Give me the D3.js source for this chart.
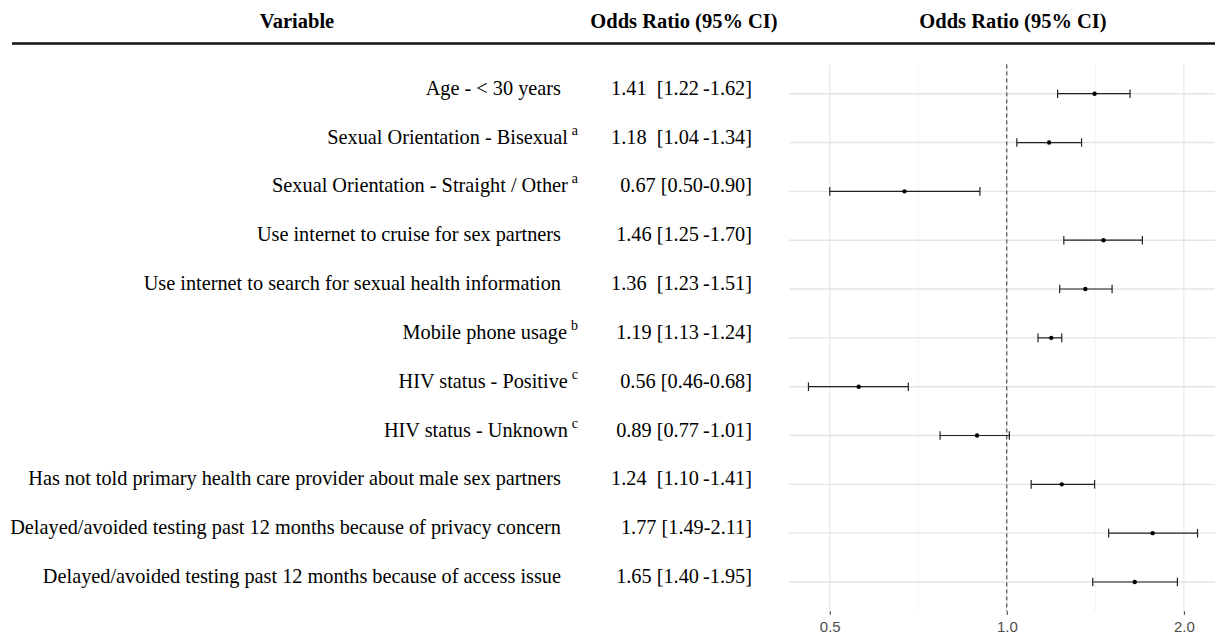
<!DOCTYPE html>
<html>
<head>
<meta charset="utf-8">
<script src="https://cdn.jsdelivr.net/npm/d3@7"></script>
<style>
  body { margin: 0; background: #fff; }
  text { white-space: pre; }
</style>
</head>
<body>
<div id="forest"></div>
<script>
// rows, top to bottom
var variables = [
  "Age - < 30 years",
  "Sexual Orientation - Bisexual",
  "Sexual Orientation - Straight / Other",
  "Use internet to cruise for sex partners",
  "Use internet to search for sexual health information",
  "Mobile phone usage",
  "HIV status - Positive",
  "HIV status - Unknown",
  "Has not told primary health care provider about male sex partners",
  "Delayed/avoided testing past 12 months because of privacy concern",
  "Delayed/avoided testing past 12 months because of access issue"
];
var footnotes = ["", "a", "a", "", "", "b", "c", "c", "", "", ""];
var oddsRatio = [1.41, 1.18, 0.67, 1.46, 1.36, 1.19, 0.56, 0.89, 1.24, 1.77, 1.65];
var ciLower   = [1.22, 1.04, 0.50, 1.25, 1.23, 1.13, 0.46, 0.77, 1.10, 1.49, 1.40];
var ciUpper   = [1.62, 1.34, 0.90, 1.70, 1.51, 1.24, 0.68, 1.01, 1.41, 2.11, 1.95];
var ciLabels = [
  "1.41  [1.22\u2009-1.62]",
  "1.18  [1.04\u2009-1.34]",
  "0.67 [0.50-0.90]",
  "1.46 [1.25\u2009-1.70]",
  "1.36  [1.23\u2009-1.51]",
  "1.19 [1.13\u2009-1.24]",
  "0.56 [0.46-0.68]",
  "0.89 [0.77\u2009-1.01]",
  "1.24  [1.10\u2009-1.41]",
  "1.77 [1.49-2.11]",
  "1.65 [1.40\u2009-1.95]"
];
var xTicks = [0.5, 1.0, 2.0];
var headers = ["Variable", "Odds Ratio (95% CI)", "Odds Ratio (95% CI)"];

var width = 1215, height = 635;
var panel = {left: 789, right: 1217, top: 64.4, bottom: 611.3};
var serif = "'Liberation Serif', 'Times New Roman', serif";

var svg = d3.select("#forest")
  .append("svg")
    .attr("width", width)
    .attr("height", height);

// ---------- header ----------
var headerX = [297, 684, 1013];
svg.selectAll("header")
  .data(headers)
  .enter()
  .append("text")
    .attr("x", function(d, i) { return headerX[i]; })
    .attr("y", 28)
    .attr("text-anchor", "middle")
    .style("font-family", serif)
    .style("font-weight", "bold")
    .style("font-size", "20.5px")
    .text(function(d) { return d; });

svg.append("line")
  .attr("x1", 12).attr("x2", width)
  .attr("y1", 43.5).attr("y2", 43.5)
  .attr("stroke", "#111")
  .attr("stroke-width", 2.7);

// ---------- scales ----------
var lo = d3.min(ciLower), hi = d3.max(ciUpper);
var pad = Math.log(hi / lo) * 0.05;
var x = d3.scaleLog()
  .domain([lo * Math.exp(-pad), hi * Math.exp(pad)])
  .range([panel.left, panel.right]);

var y = d3.scalePoint()
  .domain(d3.range(variables.length))
  .range([panel.top, panel.bottom])
  .padding(0.6);

// ---------- grid ----------
var grid = svg.append("g");
var minorTicks = d3.pairs(xTicks).map(function(p) { return Math.sqrt(p[0] * p[1]); });

grid.selectAll("minor")
  .data(minorTicks)
  .enter()
  .append("line")
    .attr("x1", function(d) { return x(d); })
    .attr("x2", function(d) { return x(d); })
    .attr("y1", panel.top).attr("y2", panel.bottom)
    .attr("stroke", "#f0f0f0")
    .attr("stroke-width", 0.8);

grid.selectAll("major")
  .data(xTicks)
  .enter()
  .append("line")
    .attr("x1", function(d) { return x(d); })
    .attr("x2", function(d) { return x(d); })
    .attr("y1", panel.top).attr("y2", panel.bottom)
    .attr("stroke", "#e4e4e4")
    .attr("stroke-width", 1);

grid.selectAll("hgrid")
  .data(d3.range(variables.length))
  .enter()
  .append("line")
    .attr("x1", panel.left).attr("x2", width)
    .attr("y1", function(d) { return y(d); })
    .attr("y2", function(d) { return y(d); })
    .attr("stroke", "#e4e4e4")
    .attr("stroke-width", 1.4);

// reference line at OR = 1
svg.append("line")
  .attr("x1", x(1)).attr("x2", x(1))
  .attr("y1", panel.top).attr("y2", panel.bottom)
  .attr("stroke", "#333")
  .attr("stroke-width", 1)
  .style("stroke-dasharray", "4,3");

// ---------- x axis ----------
var xAxis = svg.append("g")
  .attr("transform", "translate(0," + panel.bottom + ")")
  .call(d3.axisBottom(x)
    .tickValues(xTicks)
    .tickFormat(d3.format(".1f"))
    .tickSize(3.5)
    .tickPadding(7));
xAxis.select(".domain").remove();
xAxis.selectAll(".tick line").attr("stroke", "#333");
xAxis.selectAll(".tick text")
  .attr("fill", "#4d4d4d")
  .style("font-family", "'Liberation Sans', Arial, sans-serif")
  .style("font-size", "15px");

// ---------- error bars and points ----------
var rows = d3.range(variables.length);
var bars = svg.append("g");
var capH = 4.3;

bars.selectAll("ci")
  .data(rows)
  .enter()
  .append("line")
    .attr("x1", function(i) { return x(ciLower[i]); })
    .attr("x2", function(i) { return x(ciUpper[i]); })
    .attr("y1", function(i) { return y(i); })
    .attr("y2", function(i) { return y(i); })
    .attr("stroke", "#222")
    .attr("stroke-width", 1.2);

[ciLower, ciUpper].forEach(function(arr) {
  bars.selectAll("cap")
    .data(rows)
    .enter()
    .append("line")
      .attr("x1", function(i) { return x(arr[i]); })
      .attr("x2", function(i) { return x(arr[i]); })
      .attr("y1", function(i) { return y(i) - capH; })
      .attr("y2", function(i) { return y(i) + capH; })
      .attr("stroke", "#222")
      .attr("stroke-width", 1.2);
});

bars.selectAll("dot")
  .data(rows)
  .enter()
  .append("circle")
    .attr("cx", function(i) { return x(oddsRatio[i]); })
    .attr("cy", function(i) { return y(i); })
    .attr("r", 2.2)
    .style("fill", "#000");

// ---------- table text ----------
var labels = svg.selectAll("varlabel")
  .data(rows)
  .enter()
  .append("text")
    .attr("x", function(i) { return footnotes[i] ? 578 : 561; })
    .attr("y", function(i) { return y(i) + 1; })
    .attr("text-anchor", "end")
    .style("font-family", serif)
    .style("font-size", "20.3px");

labels.append("tspan")
  .text(function(i) { return variables[i]; });
labels.filter(function(i) { return footnotes[i]; })
  .append("tspan")
    .attr("dx", 4)
    .attr("dy", -9)
    .style("font-size", "14px")
    .text(function(i) { return footnotes[i]; });

svg.selectAll("cilabel")
  .data(rows)
  .enter()
  .append("text")
    .attr("x", 752)
    .attr("y", function(i) { return y(i) + 1; })
    .attr("text-anchor", "end")
    .style("font-family", serif)
    .style("font-size", "20.3px")
    .text(function(i) { return ciLabels[i]; });
</script>
</body>
</html>
